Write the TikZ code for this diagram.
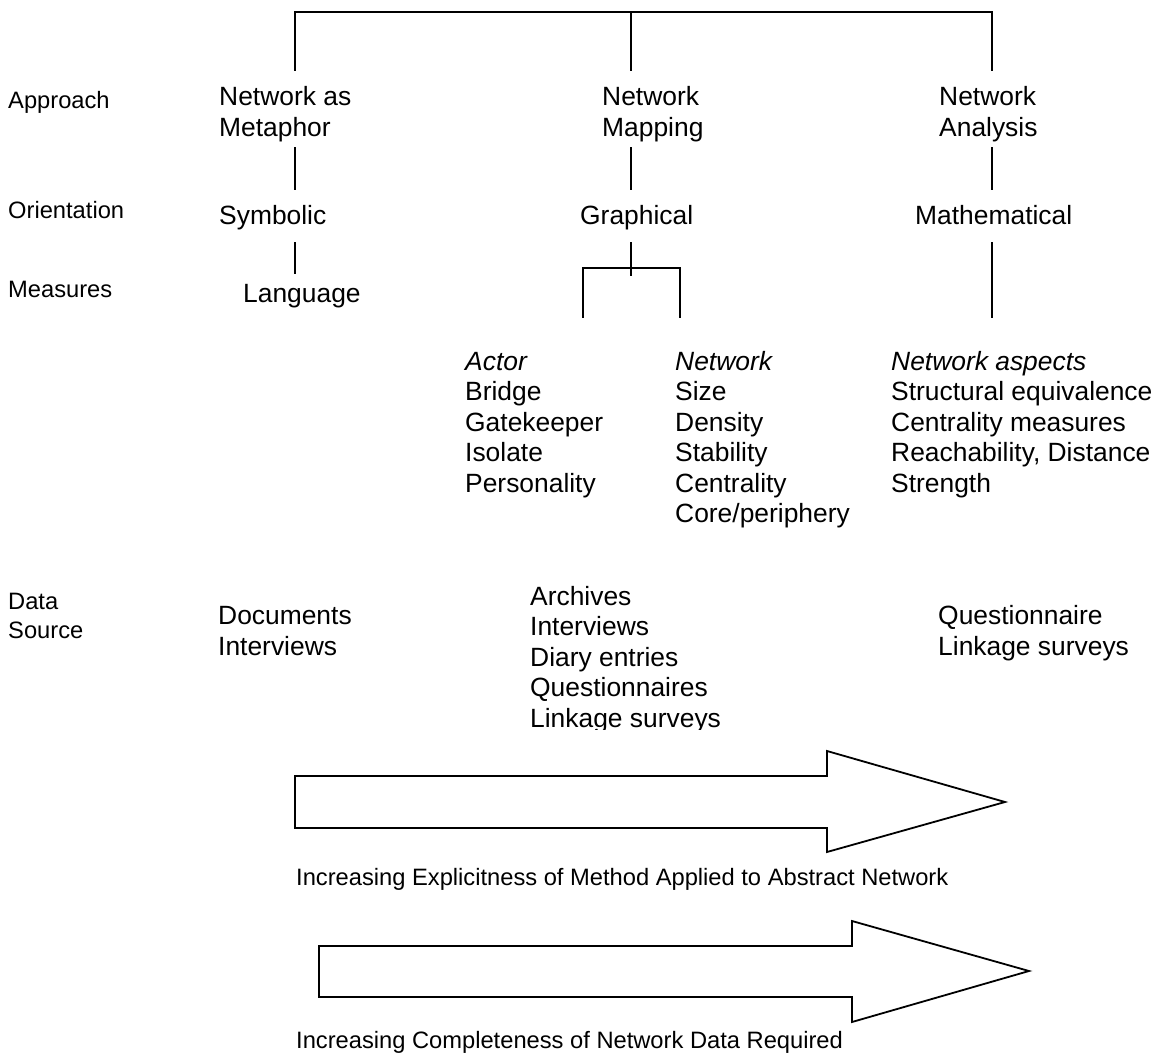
\documentclass[tikz,border=0pt]{standalone}
\usepackage{fontspec}
\setmainfont{Liberation Sans}
\begin{document}
\begin{tikzpicture}[x=1pt,y=-1pt,
  big/.style={anchor=base west, inner sep=0pt, font=\fontsize{26.4}{30.5}\selectfont},
  small/.style={anchor=base west, inner sep=0pt, font=\fontsize{23.7}{29}\selectfont},
  conn/.style={line width=1.5pt, line cap=rect},
  bigarrow/.style={line width=1.8pt, line join=miter}]
\useasboundingbox (0,0) rectangle (1158,1054);

% ---------- row labels ----------
\node[small] (lapproach) at (8,108.3) {Approach};
\node[small] (lorient) at (8,218.3) {Orientation};
\node[small] (lmeasures) at (8,297.7) {Measures};
\node[small] (ldata) at (8,609.3) {\begin{tabular}[t]{@{}l@{}}Data\\Source\end{tabular}};

% ---------- approach ----------
\node[big] (metaphor) at (219,105.7) {\begin{tabular}[t]{@{}l@{}}Network as\\Metaphor\end{tabular}};
\node[big] (mapping) at (602,105.7) {\begin{tabular}[t]{@{}l@{}}Network\\Mapping\end{tabular}};
\node[big] (analysis) at (939,105.7) {\begin{tabular}[t]{@{}l@{}}Network\\Analysis\end{tabular}};

% ---------- orientation ----------
\node[big] (symbolic) at (219,224.5) {Symbolic};
\node[big] (graphical) at (580,224.5) {Graphical};
\node[big] (mathematical) at (915,224.5) {Mathematical};

% ---------- measures ----------
\node[big] (language) at (243,302.3) {Language};
\node[big] (actor) at (465,370) {\begin{tabular}[t]{@{}l@{}}\textit{Actor}\\Bridge\\Gatekeeper\\Isolate\\Personality\end{tabular}};
\node[big] (network) at (675,370) {\begin{tabular}[t]{@{}l@{}}\textit{Network}\\Size\\Density\\Stability\\Centrality\\Core/periphery\end{tabular}};
\node[big] (aspects) at (891,370) {\begin{tabular}[t]{@{}l@{}}\textit{Network aspects}\\Structural equivalence\\Centrality measures\\Reachability, Distance\\Strength\end{tabular}};

% ---------- data sources ----------
\node[big] (docs) at (218,624.5) {\begin{tabular}[t]{@{}l@{}}Documents\\Interviews\end{tabular}};
\begin{scope}
  \clip (500,560) rectangle (800,729);
  \node[big] (archives) at (530,605) {\begin{tabular}[t]{@{}l@{}}Archives\\Interviews\\Diary entries\\Questionnaires\\Linkage surveys\end{tabular}};
\end{scope}
\node[big] (quest) at (938,624.5) {\begin{tabular}[t]{@{}l@{}}Questionnaire\\Linkage surveys\end{tabular}};

% ---------- tree connectors ----------
\coordinate (tL) at (295,12);
\coordinate (tM) at (631,12);
\coordinate (tR) at (992,12);
\coordinate (aL) at (295,70);
\coordinate (aM) at (631,70);
\coordinate (aR) at (992,70);
\draw[conn] (aL) -- (tL) -- (tR) -- (aR);
\draw[conn] (tM) -- (aM);

\coordinate (bL1) at (295,148); \coordinate (bL2) at (295,189);
\coordinate (bM1) at (631,148); \coordinate (bM2) at (631,189);
\coordinate (bR1) at (992,148); \coordinate (bR2) at (992,189);
\draw[conn] (bL1) -- (bL2);
\draw[conn] (bM1) -- (bM2);
\draw[conn] (bR1) -- (bR2);

\coordinate (cL1) at (295,243); \coordinate (cL2) at (295,273);
\draw[conn] (cL1) -- (cL2);
\coordinate (cM1) at (631,243); \coordinate (cM2) at (631,275);
\draw[conn] (cM1) -- (cM2);
\coordinate (kL) at (583,268); \coordinate (kR) at (680,268);
\coordinate (kLb) at (583,317); \coordinate (kRb) at (680,317);
\draw[conn] (kLb) -- (kL) -- (kR) -- (kRb);
\coordinate (cR1) at (992,243); \coordinate (cR2) at (992,317);
\draw[conn] (cR1) -- (cR2);

% ---------- block arrows ----------
\draw[bigarrow] (295,776) -- (827,776) -- (827,751) -- (1005,802) -- (827,852) -- (827,828) -- (295,828) -- cycle;
\node[small] (explicit) at (296,885) {Increasing Explicitness of Method Applied to Abstract Network};

\draw[bigarrow] (319,946) -- (852,946) -- (852,921) -- (1029,971) -- (852,1022) -- (852,997) -- (319,997) -- cycle;
\node[small] (complete) at (296,1048.5) {Increasing Completeness of Network Data Required};
\end{tikzpicture}
\end{document}
